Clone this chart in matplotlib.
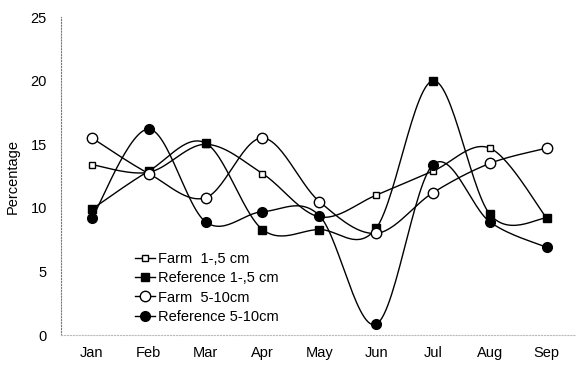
import numpy as np
import matplotlib.pyplot as plt

months = ["Jan", "Feb", "Mar", "Apr", "May", "Jun", "Jul", "Aug", "Sep"]
farm_1_5 = [13.4, 12.8, 15.0, 12.7, 9.3, 11.0, 12.9, 14.7, 9.2]
ref_1_5 = [9.9, 12.9, 15.1, 8.3, 8.3, 8.4, 20.0, 9.5, 9.2]
farm_5_10 = [15.5, 12.7, 10.8, 15.5, 10.5, 8.0, 11.2, 13.5, 14.7]
ref_5_10 = [9.2, 16.2, 8.9, 9.7, 9.4, 0.85, 13.4, 8.9, 6.9]


# excel-like smoothed line (cardinal spline through the points)
def smooth(y, n=30):
    x = np.arange(len(y), dtype=float)
    y = np.asarray(y, dtype=float)
    xs, ys = [], []
    for i in range(len(y) - 1):
        p0 = (x[i - 1], y[i - 1]) if i > 0 else (x[i], y[i])
        p1 = (x[i], y[i])
        p2 = (x[i + 1], y[i + 1])
        p3 = (x[i + 2], y[i + 2]) if i + 2 < len(y) else (x[i + 1], y[i + 1])
        c1 = (p1[0] + (p2[0] - p0[0]) / 6, p1[1] + (p2[1] - p0[1]) / 6)
        c2 = (p2[0] - (p3[0] - p1[0]) / 6, p2[1] - (p3[1] - p1[1]) / 6)
        t = np.linspace(0, 1, n)
        for k in range(2):
            pts = [p1[k], c1[k], c2[k], p2[k]]
            b = ((1 - t) ** 3 * pts[0] + 3 * (1 - t) ** 2 * t * pts[1]
                 + 3 * (1 - t) * t ** 2 * pts[2] + t ** 3 * pts[3])
            (xs if k == 0 else ys).append(b)
    return np.concatenate(xs), np.concatenate(ys)


plt.rcParams['font.family'] = ['Liberation Sans', 'DejaVu Sans']
fig = plt.figure(figsize=(5.78, 3.65), dpi=100)
ax = fig.add_axes([0.105, 0.082, 0.89, 0.871])

series = [
    (farm_1_5, "s", "white", 4, "Farm  1-,5 cm"),
    (ref_1_5, "s", "black", 5.5, "Reference 1-,5 cm"),
    (farm_5_10, "o", "white", 7.5, "Farm  5-10cm"),
    (ref_5_10, "o", "black", 7, "Reference 5-10cm"),
]
x = np.arange(len(months))
for vals, mk, fc, ms, lab in series:
    sx, sy = smooth(vals)
    ax.plot(sx, sy, color="black", lw=1.0, zorder=2)
    ax.plot(x, vals, ls="none", marker=mk, mfc=fc, mec="black", ms=ms,
            mew=1.0, zorder=3)
    ax.plot([], [], color="black", lw=1.0, marker=mk, mfc=fc, mec="black",
            ms=ms, mew=1.0, label=lab)

ax.set_xlim(-0.55, 8.5)
ax.set_ylim(0, 25)
ax.set_yticks([0, 5, 10, 15, 20, 25])
ax.set_xticks(x)
ax.set_xticklabels(months)
ax.tick_params(labelsize=10.5, length=0, pad=8)
ax.tick_params(axis="y", pad=10)
ax.set_ylabel("Percentage", fontsize=10.5, labelpad=8)

for s in ["top", "right"]:
    ax.spines[s].set_visible(False)
ax.spines["left"].set_linestyle(":")
ax.spines["left"].set_color("#777777")
ax.spines["bottom"].set_linestyle(":")
ax.spines["bottom"].set_color("#bbbbbb")

ax.legend(loc="lower left", bbox_to_anchor=(0.13, 0.013), frameon=False,
          fontsize=10.5, handlelength=1.4, handletextpad=0.2,
          labelspacing=0.35, borderpad=0)

fig.savefig("out.png", dpi=100)
